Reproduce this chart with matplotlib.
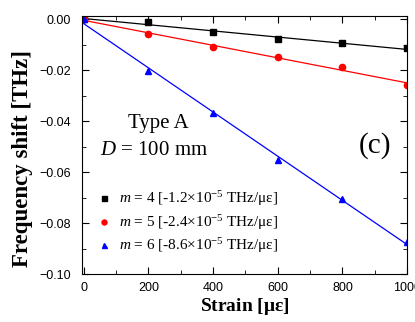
import numpy as np
import matplotlib
matplotlib.use("Agg")
import matplotlib.pyplot as plt
from matplotlib.ticker import MultipleLocator, FuncFormatter

plt.rcParams['mathtext.fontset'] = 'custom'
plt.rcParams['mathtext.rm'] = 'Liberation Serif'
plt.rcParams['mathtext.it'] = 'Liberation Serif:italic'
plt.rcParams['mathtext.bf'] = 'Liberation Serif:bold'

strain = [0, 200, 400, 600, 800, 1000]
shift_m4 = [0.0, -0.0011, -0.0051, -0.0078, -0.0095, -0.0114]
shift_m5 = [0.0, -0.0060, -0.0109, -0.0148, -0.0188, -0.0259]
shift_m6 = [0.0, -0.0203, -0.0370, -0.0553, -0.0706, -0.0875]
labels = [r"$m$ = 4 [-1.2$\times$10$^{-5}$ THz/$\mathrm{\mu\varepsilon}$]",
          r"$m$ = 5 [-2.4$\times$10$^{-5}$ THz/$\mathrm{\mu\varepsilon}$]",
          r"$m$ = 6 [-8.6$\times$10$^{-5}$ THz/$\mathrm{\mu\varepsilon}$]"]
colors = ['black', 'red', 'blue']
markers = ['s', 'o', '^']

fig = plt.figure(figsize=(4.15, 3.22), dpi=100)
ax = fig.add_axes([0.198, 0.149, 0.783, 0.801])

x = np.array(strain, dtype=float)
handles = []
for ys, c, mk, lb in zip([shift_m4, shift_m5, shift_m6], colors, markers, labels):
    ys = np.array(ys)
    p = np.polyfit(x, ys, 1)
    xf = np.array([0, 1000.0])
    ax.plot(xf, np.polyval(p, xf), color=c, lw=0.9)
    h, = ax.plot(x, ys, linestyle='none', marker=mk, color=c, markersize=4.5, label=lb)
    handles.append(h)

ax.set_xlim(-5, 1000)
ax.set_ylim(-0.1, 0.0012)
ax.xaxis.set_major_locator(MultipleLocator(200))
ax.xaxis.set_minor_locator(MultipleLocator(100))
ax.yaxis.set_major_locator(MultipleLocator(0.02))
ax.yaxis.set_minor_locator(MultipleLocator(0.01))
ax.yaxis.set_major_formatter(FuncFormatter(
    lambda v, pos: "0.00" if abs(v) < 1e-9 else f"{v:.2f}".replace('-', '\u2212')))
ax.tick_params(which='both', direction='in', top=True, right=True, labelsize=9)
ax.tick_params(which='major', length=5)
ax.tick_params(which='minor', length=3)
ax.tick_params(axis='y', which='major', pad=8)
ax.tick_params(axis='x', which='major', pad=6)
for lbl in ax.get_xticklabels() + ax.get_yticklabels():
    lbl.set_family('Liberation Sans')

ax.set_xlabel(r"Strain [$\mathbf{\mu\varepsilon}$]", family='Liberation Serif',
              fontweight='bold', fontsize=14, labelpad=1)
ax.set_ylabel("Frequency shift [THz]", family='Liberation Serif',
              fontweight='bold', fontsize=16.5)
ax.yaxis.set_label_coords(-0.151, 0.446)

ax.text(0.234, 0.585, "Type A", transform=ax.transAxes, ha='center', va='center',
        family='Liberation Serif', fontsize=15)
ax.text(0.22, 0.48, r"$D$ = 100 mm", transform=ax.transAxes, ha='center', va='center',
        family='Liberation Serif', fontsize=15)
ax.text(0.90, 0.50, "(c)", transform=ax.transAxes, ha='center', va='center',
        family='Liberation Serif', fontsize=21)

leg = ax.legend(handles=handles, loc='lower left', bbox_to_anchor=(0.0, 0.019),
                frameon=False, prop={'family': 'Liberation Serif', 'size': 11},
                handlelength=1.0, handletextpad=0.5, labelspacing=0.3, markerscale=0.8)

fig.savefig("out.png", dpi=100)
